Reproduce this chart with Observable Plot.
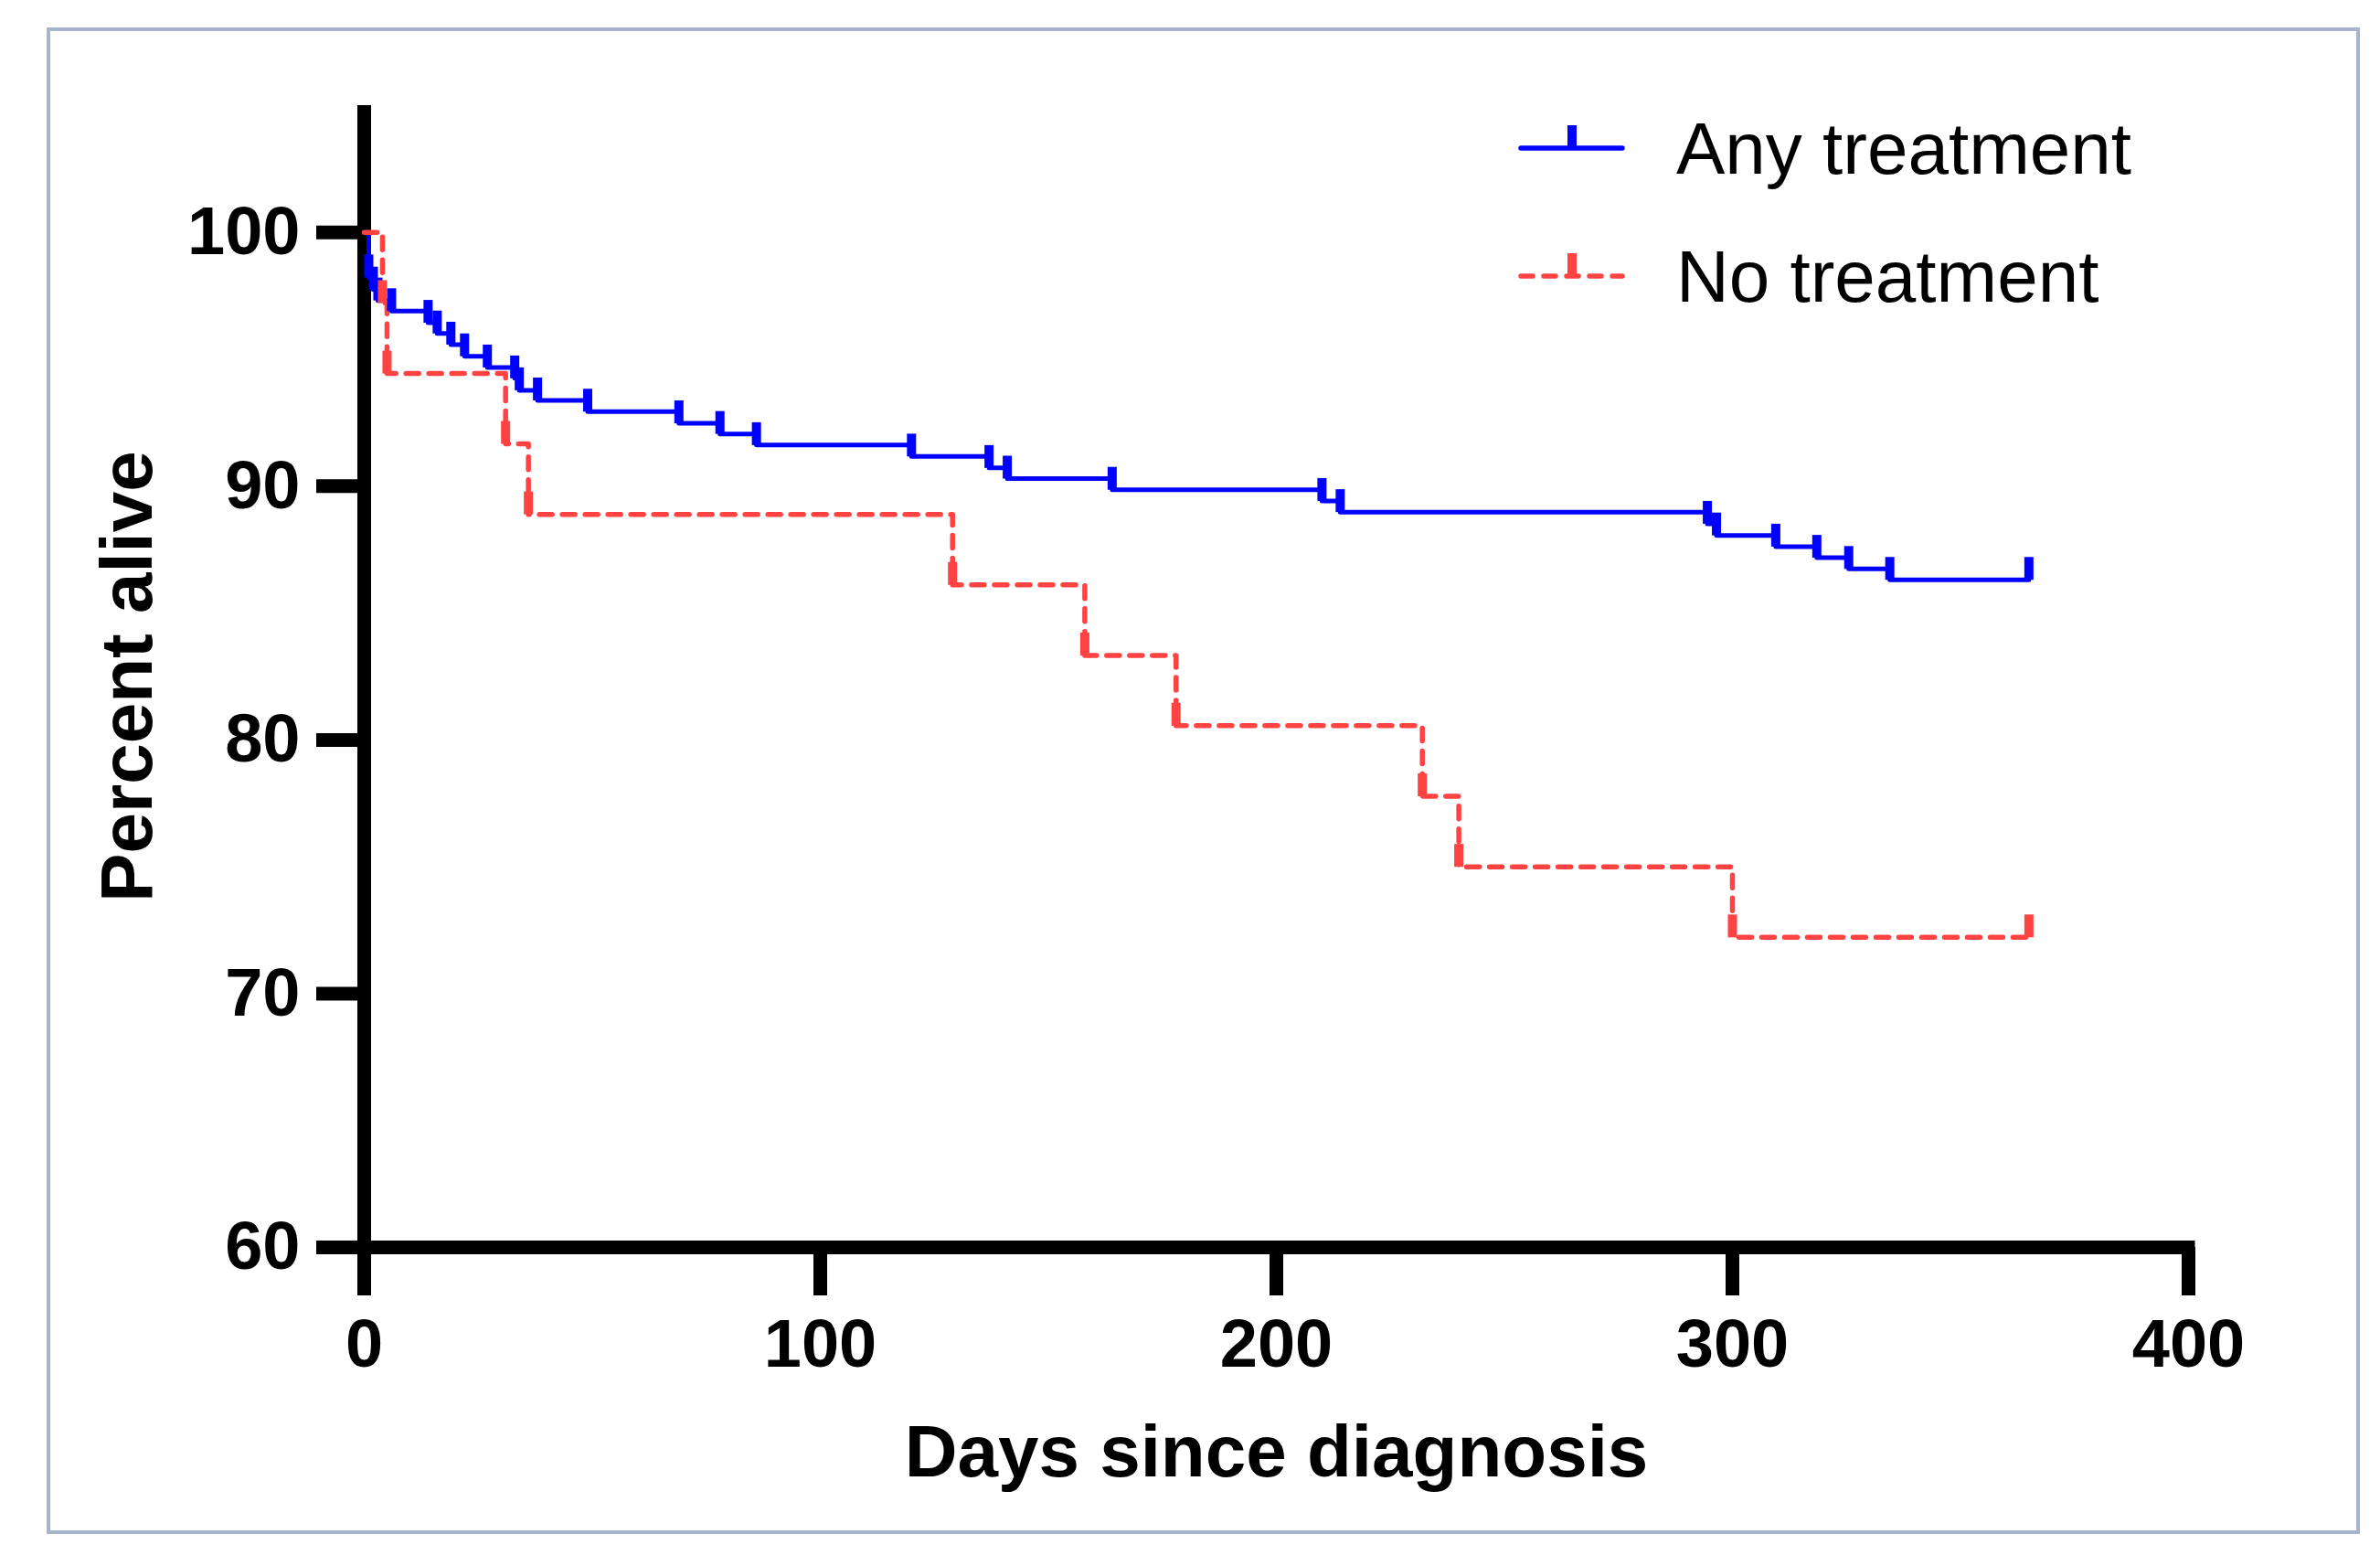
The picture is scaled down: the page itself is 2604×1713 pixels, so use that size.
<!DOCTYPE html>
<html>
<head>
<meta charset="utf-8">
<script src="https://cdn.jsdelivr.net/npm/d3@7"></script>
<script src="https://cdn.jsdelivr.net/npm/@observablehq/plot@0.6"></script>
<style>
  html, body { margin: 0; padding: 0; background: #fff; }
  #wrap { position: relative; width: 2604px; height: 1713px; background: #fff; overflow: hidden; }
  #border { position: absolute; left: 51px; top: 30px; width: 2523px; height: 1640px; border: 4px solid #a6b5cb; }
  #legend { position: absolute; left: 1600px; top: 100px; }
</style>
</head>
<body>
<div id="wrap">
  <div id="border"></div>
  <div id="chart"></div>
  <svg id="legend" width="800" height="260"></svg>
</div>
<script>
// ---- data ----
const seriesNames = ["Any treatment", "No treatment"];
const anyDays = [0, 1, 2, 3, 6, 14, 16, 19, 22, 27, 33, 34, 38, 49, 69, 78, 86, 120, 137, 141, 164, 210, 214, 294.5, 296.5, 309.5, 318.5, 325.5, 334.5, 365];
const anyPct  = [100, 98.23, 97.75, 97.32, 96.90, 96.44, 96.02, 95.58, 95.12, 94.68, 94.25, 93.78, 93.38, 92.94, 92.48, 92.06, 91.62, 91.17, 90.72, 90.30, 89.86, 89.42, 88.98, 88.52, 88.06, 87.62, 87.18, 86.74, 86.31, 86.31];
const noDays  = [0, 4, 5, 31, 36, 129, 158, 178, 232, 240, 300, 365];
const noPct   = [100, 97.22, 94.44, 91.67, 88.89, 86.11, 83.33, 80.56, 77.78, 75.00, 72.22, 72.22];
const xTicks = [0, 100, 200, 300, 400];
const yTicks = [60, 70, 80, 90, 100];
const xLabel = "Days since diagnosis";
const yLabel = "Percent alive";

const blue = "#0000ff";
const red = "#ff4242";

const anyData = anyDays.map((t, i) => ({t, s: anyPct[i]}));
const noData = noDays.map((t, i) => ({t, s: noPct[i]}));

// vertical tick symbol rising from the point
const tickUp = { draw(ctx) { ctx.moveTo(0, 0); ctx.lineTo(0, -25); } };

const font = "'Liberation Sans', Arial, Helvetica, sans-serif";

const chart = Plot.plot({
  width: 2604,
  height: 1713,
  marginLeft: 398,
  marginRight: 210,
  marginTop: 115,
  marginBottom: 349,
  style: { fontFamily: font, fontSize: "74px", fontWeight: "bold", color: "black", background: "transparent" },
  x: { domain: [0, 400] },
  y: { domain: [60, 105] },
  marks: [
    Plot.axisX({ ticks: xTicks, tickSize: 53, tickPadding: 25, strokeWidth: 15, label: null, tickFormat: d => String(d) }),
    Plot.axisY({ ticks: yTicks, tickSize: 52, tickPadding: 18, strokeWidth: 15, label: null, tickFormat: d => String(d) }),
    Plot.ruleY([60], { strokeWidth: 15, strokeLinecap: "square" }),
    Plot.ruleX([0], { strokeWidth: 15 }),
    Plot.text([xLabel], { text: d => d, frameAnchor: "bottom", dy: 225, lineAnchor: "middle", textAnchor: "middle", fontSize: 80, fontWeight: "bold" }),
    Plot.text([yLabel], { text: d => d, frameAnchor: "left", dx: -258, rotate: -90, lineAnchor: "middle", textAnchor: "middle", fontSize: 80, fontWeight: "bold" }),
    Plot.line(anyData, { x: "t", y: "s", curve: "step-after", stroke: blue, strokeWidth: 5 }),
    Plot.line(noData, { x: "t", y: "s", curve: "step-after", stroke: red, strokeWidth: 5.5, strokeDasharray: "14 11", strokeLinecap: "round" }),
    Plot.dot(anyData.slice(1), { x: "t", y: "s", symbol: tickUp, fill: "none", stroke: blue, strokeWidth: 10, strokeLinecap: "butt" }),
    Plot.dot(noData.slice(1), { x: "t", y: "s", symbol: tickUp, fill: "none", stroke: red, strokeWidth: 10, strokeLinecap: "butt" })
  ]
});
document.getElementById("chart").appendChild(chart);

// legend
const lg = d3.select("#legend");
const items = [
  { name: seriesNames[0], color: blue, dash: null, y: 62 },
  { name: seriesNames[1], color: red, dash: "13 12", y: 202 }
];
items.forEach(it => {
  lg.append("line").attr("x1", 64).attr("x2", 175).attr("y1", it.y).attr("y2", it.y)
    .attr("stroke", it.color).attr("stroke-width", 5.5).attr("stroke-linecap", "round")
    .attr("stroke-dasharray", it.dash);
  lg.append("line").attr("x1", 120).attr("x2", 120).attr("y1", it.y).attr("y2", it.y - 25)
    .attr("stroke", it.color).attr("stroke-width", 10);
  lg.append("text").attr("x", 234).attr("y", it.y + 28).text(it.name)
    .attr("font-family", font).attr("font-size", 80).attr("fill", "black");
});
</script>
</body>
</html>
